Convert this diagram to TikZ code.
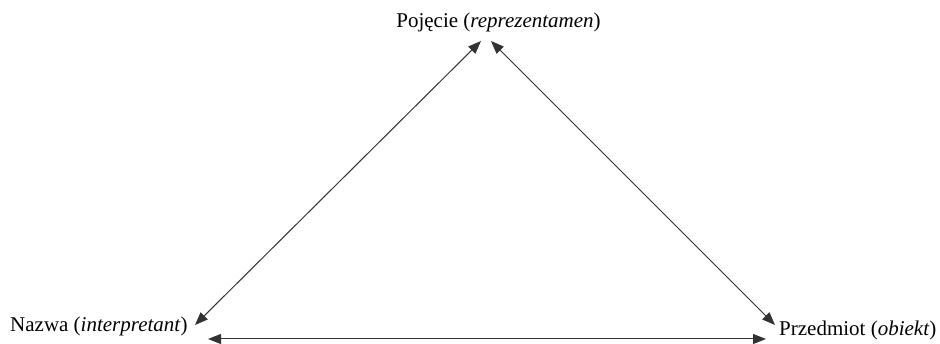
\documentclass[tikz,border=0pt]{standalone}
\usepackage{fontspec}
\setmainfont{Liberation Serif}
\usetikzlibrary{arrows.meta}
\begin{document}
\begin{tikzpicture}[x=1pt,y=-1pt,
  lbl/.style={inner sep=0pt, font=\fontsize{21}{25}\selectfont},
  link/.style={draw=black!80, line width=1pt, {Triangle[length=13pt,width=10pt]}-{Triangle[length=13pt,width=10pt]}}]
\useasboundingbox (0,0) rectangle (940,344);
\node[lbl,anchor=base] (pc) at (498.5,28) {Pojęcie (\textit{reprezentamen})};
\node[lbl,anchor=base west] (nz) at (10,332) {Nazwa (\textit{interpretant})};
\node[lbl,anchor=base west] (pd) at (779,336) {Przedmiot (\textit{obiekt})};
\coordinate (pcL) at (481,41);
\coordinate (pcR) at (491,41);
\coordinate (nzT) at (195,325);
\coordinate (nzB) at (208,339);
\coordinate (pdT) at (775,325);
\coordinate (pdB) at (766,339);
\draw[link] (nzT) -- (pcL);
\draw[link] (pcR) -- (pdT);
\draw[link] (nzB) -- (pdB);
\end{tikzpicture}
\end{document}
